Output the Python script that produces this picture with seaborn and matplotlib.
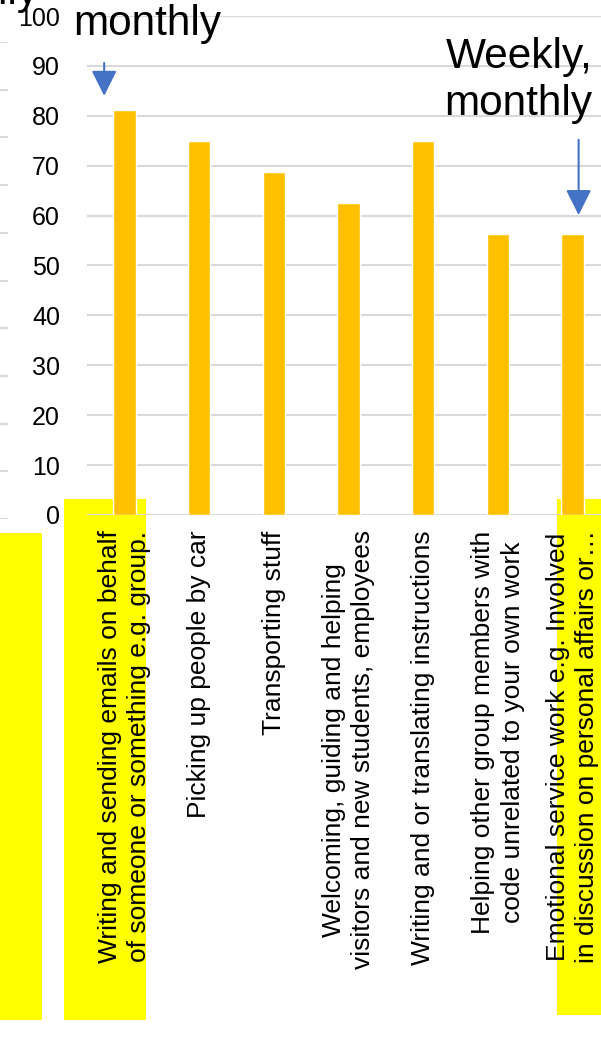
import matplotlib
matplotlib.use("Agg")
import matplotlib.pyplot as plt
import seaborn as sns
import pandas as pd
from matplotlib.patches import Rectangle

categories = [
    "Writing and sending emails on behalf\nof someone or something e.g. group.",
    "Picking up people by car",
    "Transporting stuff",
    "Welcoming, guiding and helping\nvisitors and new students, employees",
    "Writing and or translating instructions",
    "Helping other group members with\ncode unrelated to your own work",
    "Emotional service work e.g. Involved\nin discussion on personal affairs or\u2026",
]
values = [81.25, 75.0, 68.75, 62.5, 75.0, 56.25, 56.25]
yticks = list(range(0, 101, 10))

sns.set_theme(style="white")
plt.rcParams["font.family"] = ["Liberation Sans", "DejaVu Sans"]

W, H = 601, 1048
fig = plt.figure(figsize=(W / 100, H / 100), dpi=100)

def fx(px):
    return px / W

def fy(py):
    return 1 - py / H

# yellow highlight boxes (behind everything)
for (x0, y0, x1, y1) in [(0, 533, 42, 1020), (64, 499, 146, 1020), (557, 499, 612, 1015)]:
    fig.patches.append(Rectangle((fx(x0), fy(y1)), fx(x1) - fx(x0), fy(y0) - fy(y1),
                                 transform=fig.transFigure, facecolor="#FFFF00",
                                 edgecolor="none", zorder=-5))

# partial neighbouring chart at the left edge
axl = fig.add_axes([fx(-400), fy(519), fx(408), fy(42) - fy(519)])
axl.set_facecolor("none")
axl.set_ylim(0, 100)
axl.set_yticks(yticks)
axl.set_xticks([])
axl.set_yticklabels([])
axl.grid(axis="y", color="#D9D9D9", linewidth=1.5)
for s in axl.spines.values():
    s.set_visible(False)
axl.tick_params(length=0)
fig.text(fx(38), fy(4), "monthly", fontsize=30.5, ha="right", va="baseline", color="black")

# main chart
ax = fig.add_axes([fx(87), fy(515), fx(610) - fx(87), fy(16) - fy(515)])
ax.set_facecolor("none")
df = pd.DataFrame({"cat": categories, "val": values})
sns.barplot(data=df, x="cat", y="val", color="#FFC000", saturation=1, width=0.3, ax=ax, zorder=3)
ax.set_ylim(0, 100)
ax.set_xlim(-0.5, len(categories) - 0.5)
ax.set_yticks(yticks)
ax.set_yticklabels([str(t) for t in yticks], fontsize=18, color="black")
ax.set_xlabel("")
ax.set_ylabel("")
ax.grid(axis="y", color="#D9D9D9", linewidth=1.5, zorder=0)
ax.set_axisbelow(True)
for s in ax.spines.values():
    s.set_visible(False)
ax.tick_params(axis="y", length=0, pad=19.5)
ax.tick_params(axis="x", length=0, pad=11)
ax.set_xticks(range(len(categories)))
ax.set_xticklabels(categories, rotation=90, fontsize=19, ha="center", va="top",
                   multialignment="center", linespacing=1.3, color="black")

# annotations
ax.text(-0.68, 96.2, "monthly", fontsize=30.5, ha="left", va="baseline", color="black")
ax.text(6.26, 95.7, "Weekly,\nmonthly", fontsize=30.5, ha="right", va="top",
        multialignment="right", linespacing=1.2, color="black")
arrow_kw = dict(arrowstyle="-|>,head_length=1.3,head_width=0.65", color="#4472C4", lw=1.5,
                shrinkA=0, shrinkB=0)
ax.annotate("", xy=(-0.27, 84.0), xytext=(-0.27, 90.6), arrowprops=arrow_kw)
ax.annotate("", xy=(6.08, 60.1), xytext=(6.08, 75.2), arrowprops=arrow_kw)

fig.savefig("out.png", dpi=100)
